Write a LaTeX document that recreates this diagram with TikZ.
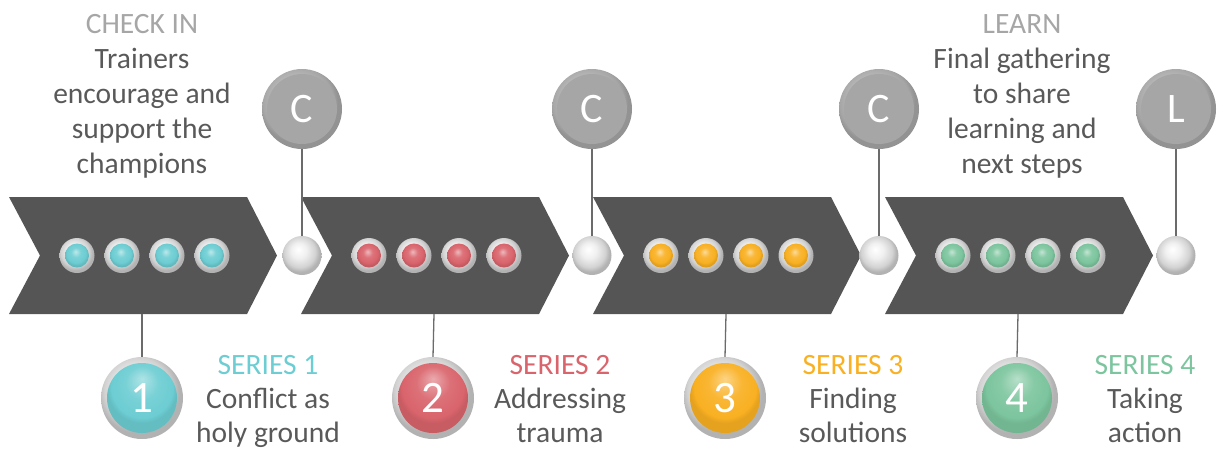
\documentclass[tikz,border=0pt]{standalone}
\usepackage{fontspec}
\setmainfont{Carlito}
\definecolor{chev}{HTML}{555555}
\definecolor{txt}{HTML}{595959}
\definecolor{head}{HTML}{A6A6A6}
\definecolor{cyanc}{HTML}{6CCDD2}
\definecolor{redc}{HTML}{D9646C}
\definecolor{orac}{HTML}{F9B022}
\definecolor{grnc}{HTML}{7CC59E}
\definecolor{bigg}{HTML}{A6A6A6}
\definecolor{linec}{HTML}{6B6B6B}
\colorlet{sbcol}{cyanc}
\pgfdeclareradialshading[sbcol]{gem}{\pgfqpoint{-3bp}{8bp}}{color(0bp)=(sbcol!45!white); color(10bp)=(sbcol!90!white); color(20bp)=(sbcol); color(25bp)=(sbcol!90!black); color(50bp)=(sbcol!90!black)}
\pgfdeclareradialshading[sbcol]{flatgem}{\pgfqpoint{0bp}{14bp}}{color(0bp)=(sbcol!55!white); color(12bp)=(sbcol!92!white); color(22bp)=(sbcol); color(25bp)=(sbcol!92!black); color(50bp)=(sbcol!92!black)}
\pgfdeclareradialshading{silver}{\pgfqpoint{-5bp}{8bp}}{color(0bp)=(white); color(10bp)=(gray!12); color(20bp)=(gray!35); color(25bp)=(gray!60); color(50bp)=(gray!60)}
\pgfdeclareradialshading{darksilver}{\pgfqpoint{-5bp}{8bp}}{color(0bp)=(gray!15); color(12bp)=(gray!50); color(22bp)=(gray!70); color(25bp)=(gray!85); color(50bp)=(gray!85)}
\tikzset{
  chevshape/.style={fill=chev},
  ring/.style={circle, inner sep=0pt, shade, shading=silver},
  darkring/.style={circle, inner sep=0pt, shade, shading=darksilver},
  gemball/.style={circle, inner sep=0pt, shade, shading=gem, /utils/exec={\colorlet{sbcol}{#1}}},
  flatball/.style={circle, inner sep=0pt, shade, shading=flatgem, /utils/exec={\colorlet{sbcol}{#1}}},
  bigc/.style={circle, inner sep=0pt, minimum size=70pt, fill=bigg, text=white, font=\fontsize{42}{42}\selectfont},
  numin/.style={flatball=#1, minimum size=70pt, text=white, font=\fontsize{45}{45}\selectfont},
  conn/.style={draw=linec, line width=1.3pt},
  headtxt/.style={anchor=base, text=head, font=\fontsize{29.5}{34}\selectfont, inner sep=0pt},
  bodytxt/.style={anchor=base, text=txt, font=\fontsize{29.5}{34}\selectfont, inner sep=0pt},
  sertxt/.style={anchor=base, text=#1, font=\fontsize{29.5}{34}\selectfont, inner sep=0pt},
}
\begin{document}
\begin{tikzpicture}[x=1pt,y=-1pt]
\useasboundingbox (0,0) rectangle (1222,451);
% chevrons
\foreach \i/\L/\col in {1/9/cyanc, 2/301/redc, 3/593/orac, 4/885/grnc}{
  \fill[chevshape] (\L,197) -- (\L+238,197) -- (\L+268,255.5) -- (\L+238,314) -- (\L,314) -- (\L+31,255.5) -- cycle;
  \coordinate (s\i) at (\L+133,314);
  \foreach \j in {0,...,3}{
    \node[ring, minimum size=35pt] (b\i\j) at (\L+68+45*\j,255.5) {};
    \node[gemball=\col, minimum size=24pt] (bi\i\j) at (b\i\j.center) {};
  }
}
% small gray balls
\foreach \i/\X in {1/302, 2/592, 3/879, 4/1176}{
  \node[ring, minimum size=39pt] (g\i) at (\X,255.5) {};
}
% big letter circles
\foreach \i/\X/\t in {1/302/C, 2/592/C, 3/879/C, 4/1176/L}{
  \node[darkring, minimum size=80pt] (C\i) at (\X,109) {};
  \node[bigc] (Ci\i) at (C\i.center) {\t};
  \draw[conn] (C\i.south) -- (g\i.north);
}
% number circles
\foreach \i/\X/\col in {1/142/cyanc, 2/433/redc, 3/725/orac, 4/1017/grnc}{
  \node[ring, minimum size=82pt] (N\i) at (\X,398) {};
  \node[numin=\col] (Ni\i) at (N\i.center) {\i};
  \draw[conn] (s\i) -- (N\i.north);
}
% top texts
\node[headtxt] (h1) at (142,33) {CHECK IN};
\node[bodytxt] (t11) at (142,68) {Trainers};
\node[bodytxt] (t12) at (142,103) {encourage and};
\node[bodytxt] (t13) at (142,138) {support the};
\node[bodytxt] (t14) at (142,173) {champions};
\node[headtxt] (h2) at (1022,33) {LEARN};
\node[bodytxt] (t21) at (1022,68) {Final gathering};
\node[bodytxt] (t22) at (1022,103) {to share};
\node[bodytxt] (t23) at (1022,138) {learning and};
\node[bodytxt] (t24) at (1022,173) {next steps};
% series texts
\node[sertxt=cyanc] (sa) at (268,374) {SERIES 1};
\node[bodytxt] (sa1) at (268,408) {Conflict as};
\node[bodytxt] (sa2) at (268,442) {holy ground};
\node[sertxt=redc] (sb) at (560,374) {SERIES 2};
\node[bodytxt] (sb1) at (560,408) {Addressing};
\node[bodytxt] (sb2) at (560,442) {trauma};
\node[sertxt=orac] (sc) at (853,374) {SERIES 3};
\node[bodytxt] (sc1) at (853,408) {Finding};
\node[bodytxt] (sc2) at (853,442) {solutions};
\node[sertxt=grnc] (sd) at (1145,374) {SERIES 4};
\node[bodytxt] (sd1) at (1145,408) {Taking};
\node[bodytxt] (sd2) at (1145,442) {action};
\end{tikzpicture}
\end{document}
